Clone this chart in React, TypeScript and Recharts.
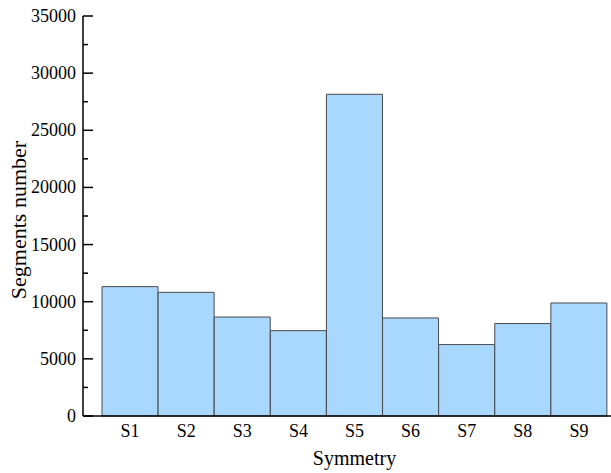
import { BarChart, Bar, XAxis, YAxis, Label } from "recharts";

const categories = ["S1", "S2", "S3", "S4", "S5", "S6", "S7", "S8", "S9"];
const segments = [11320, 10820, 8660, 7470, 28150, 8580, 6250, 8090, 9890];
// every 2500 gets a tick mark, only multiples of 5000 get a label
const yTicks = [
  0, 2500, 5000, 7500, 10000, 12500, 15000, 17500, 20000, 22500, 25000,
  27500, 30000, 32500, 35000,
];

const data = categories.map((name, i) => ({ name, value: segments[i] }));

const FONT = "'Liberation Serif', 'Times New Roman', serif";
const LABEL_GAP = 7;

// y tick: label outside, tick mark pointing into the plot
const renderYTick = (props: any) => {
  const { x, y, payload } = props;
  const v = payload.value as number;
  const major = v % 5000 === 0;
  const axisX = x + LABEL_GAP;
  return (
    <g key={`yt-${v}`}>
      <line
        x1={axisX}
        x2={axisX + (major ? 10 : 5)}
        y1={y}
        y2={y}
        stroke="#000"
        strokeWidth={1.5}
      />
      {major && (
        <text
          x={x}
          y={y + 6}
          textAnchor="end"
          fontFamily="Liberation Serif"
          fontSize="18px"
          fill="#000"
        >
          {v}
        </text>
      )}
    </g>
  );
};

const renderXTick = (props: any) => {
  const { x, y, payload } = props;
  return (
    <text
      key={`xt-${payload.value}`}
      x={x}
      y={y + 13}
      textAnchor="middle"
      fontFamily="Liberation Serif"
      fontSize="18px"
      fill="#000"
    >
      {payload.value}
    </text>
  );
};

export default function App() {
  return (
    <div style={{ position: "absolute", left: 0, top: 0, background: "#fff", fontFamily: FONT }}>
      <BarChart
        width={611}
        height={473}
        data={data}
        margin={{ top: 16, right: 0, bottom: 0, left: 0 }}
        barCategoryGap={0}
      >
        <XAxis
          dataKey="name"
          height={57}
          padding={{ left: 19, right: 4 }}
          tickLine={false}
          tickSize={0}
          tickMargin={8}
          axisLine={{ stroke: "#000", strokeWidth: 1.5 }}
          tick={renderXTick}
        >
          <Label
            content={(p: any) => {
              const vb = p.viewBox;
              const cx = vb.x + 19 + (vb.width - 23) / 2;
              return (
                <text
                  x={cx}
                  y={vb.y + vb.height - 8}
                  textAnchor="middle"
                  style={{ fontFamily: FONT, fontSize: 20, fill: "#000" }}
                >
                  Symmetry
                </text>
              );
            }}
          />
        </XAxis>
        <YAxis
          width={83}
          domain={[0, 35000]}
          ticks={yTicks}
          interval={0}
          tickLine={false}
          tickSize={0}
          tickMargin={LABEL_GAP}
          axisLine={{ stroke: "#000", strokeWidth: 1.5 }}
          tick={renderYTick}
        >
          <Label
            value="Segments number"
            angle={-90}
            position="insideLeft"
            offset={18}
            dy={4}
            style={{ textAnchor: "middle", fontFamily: FONT, fontSize: 22, fill: "#000" }}
          />
        </YAxis>
        <Bar
          dataKey="value"
          fill="#a8d8ff"
          stroke="#4a4a4a"
          strokeWidth={1}
          isAnimationActive={false}
        />
      </BarChart>
    </div>
  );
}
